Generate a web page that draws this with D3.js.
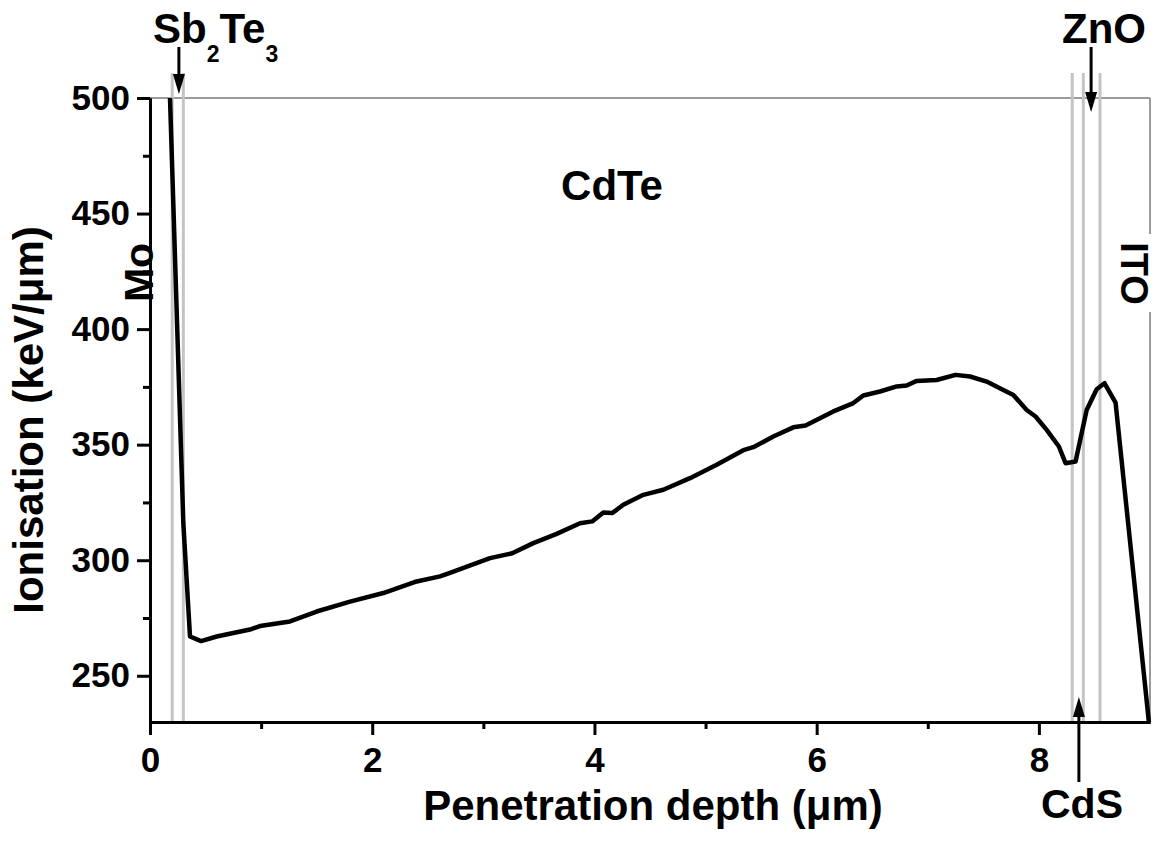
<!DOCTYPE html>
<html>
<head>
<meta charset="utf-8">
<script src="https://cdn.jsdelivr.net/npm/d3@7"></script>
<style>
  html, body { margin: 0; padding: 0; background: #fff; }
  svg { display: block; }
  text { font-family: "Liberation Sans", Arial, sans-serif; font-weight: bold; fill: #000; }
</style>
</head>
<body>
<svg id="chart" width="1157" height="842"></svg>
<script>
// ---- data ----
const depth = [0.18, 0.30, 0.36, 0.46, 0.60, 0.90, 0.99, 1.26, 1.50, 1.80, 2.10, 2.40, 2.61, 2.70,
  3.06, 3.26, 3.45, 3.66, 3.87, 3.98, 4.08, 4.16, 4.26, 4.44, 4.62, 4.86, 5.10, 5.34, 5.43, 5.61,
  5.79, 5.90, 6.15, 6.33, 6.42, 6.57, 6.72, 6.81, 6.90, 7.08, 7.25, 7.38, 7.53, 7.68, 7.77, 7.89,
  7.97, 8.07, 8.18, 8.24, 8.33, 8.43, 8.52, 8.59, 8.69, 8.99];
const ionisation = [500, 316, 267, 265, 267, 270, 271.5, 273.5, 277.8, 282.1, 285.8, 290.8, 293.0, 294.5,
  300.9, 303.0, 307.4, 311.4, 316.0, 316.8, 320.7, 320.4, 324.0, 328.3, 330.5, 335.5, 341.3, 347.6, 348.9, 353.5,
  357.5, 358.3, 364.4, 368.0, 371.3, 373.0, 375.2, 375.6, 377.6, 378.0, 380.2, 379.5, 377.3, 373.7, 371.5, 365.0,
  362.2, 356.4, 349.2, 342.0, 342.7, 365.0, 374.0, 376.6, 368.2, 230];
const interfaces = [0.2, 0.3, 8.3, 8.4, 8.55];
const xMajorTicks = [0, 2, 4, 6, 8];
const xMinorTicks = [1, 3, 5, 7];
const yMajorTicks = [250, 300, 350, 400, 450, 500];
const yMinorTicks = [275, 325, 375, 425, 475];
const xDomain = [0, 9];
const yDomain = [230, 500];
const xTitle = "Penetration depth (\u03bcm)";
const yTitle = "Ionisation (keV/\u03bcm)";

// ---- layout ----
const L = 150, R = 1150, T = 98, B = 722;
const svg = d3.select("#chart");
const x = d3.scaleLinear().domain(xDomain).range([L, R]);
const y = d3.scaleLinear().domain(yDomain).range([B, T]);

// frame (top & right, thin gray)
svg.append("line").attr("x1", L).attr("x2", R).attr("y1", T).attr("y2", T)
  .attr("stroke", "#7a7a7a").attr("stroke-width", 1.5);
svg.append("line").attr("x1", R).attr("x2", R).attr("y1", T).attr("y2", B)
  .attr("stroke", "#7a7a7a").attr("stroke-width", 1.5);

// interface lines
svg.selectAll("line.iface").data(interfaces).join("line").attr("class", "iface")
  .attr("x1", d => x(d)).attr("x2", d => x(d)).attr("y1", 73).attr("y2", B)
  .attr("stroke", "#c4c4c4").attr("stroke-width", 3);

// curve
const line = d3.line().x((d, i) => x(depth[i])).y(d => y(d));
svg.append("path").datum(ionisation).attr("d", line)
  .attr("fill", "none").attr("stroke", "#000").attr("stroke-width", 4.5)
  .attr("stroke-linejoin", "round");

// axes
function styleAxis(g) {
  g.selectAll("path.domain").attr("stroke", "#000").attr("stroke-width", 3);
  g.selectAll(".tick line").attr("stroke", "#000").attr("stroke-width", 3);
  g.selectAll(".tick text").style("font-family", '"Liberation Sans", Arial, sans-serif')
    .style("font-weight", "bold").style("font-size", "35px").attr("fill", "#000");
}
svg.append("g").attr("transform", `translate(0,${B})`)
  .call(d3.axisBottom(x).tickValues(xMinorTicks).tickSize(7).tickSizeOuter(0).tickFormat(""))
  .call(styleAxis);
svg.append("g").attr("transform", `translate(0,${B})`)
  .call(d3.axisBottom(x).tickValues(xMajorTicks).tickSize(13).tickPadding(12).tickSizeOuter(0).tickFormat(d3.format("d")))
  .call(styleAxis);
svg.append("g").attr("transform", `translate(${L},0)`)
  .call(d3.axisLeft(y).tickValues(yMinorTicks).tickSize(7).tickSizeOuter(0).tickFormat(""))
  .call(styleAxis);
svg.append("g").attr("transform", `translate(${L},0)`)
  .call(d3.axisLeft(y).tickValues(yMajorTicks).tickSize(13).tickPadding(7).tickSizeOuter(0).tickFormat(d3.format("d")))
  .call(styleAxis);

// axis titles
svg.append("text").attr("x", (L + R) / 2 + 3).attr("y", 820).attr("text-anchor", "middle")
  .style("font-size", "42px").text(xTitle);
svg.append("text").attr("transform", `translate(43,${(T + B) / 2 + 10}) rotate(-90)`)
  .attr("text-anchor", "middle").style("font-size", "42px").text(yTitle);

// arrows
function arrow(xp, y0, y1) {
  const dir = Math.sign(y1 - y0);
  const hl = 20, hw = 6;
  svg.append("line").attr("x1", xp).attr("x2", xp).attr("y1", y0).attr("y2", y1 - dir * hl)
    .attr("stroke", "#000").attr("stroke-width", 3);
  svg.append("path").attr("d", `M${xp},${y1} L${xp - hw},${y1 - dir * hl} L${xp + hw},${y1 - dir * hl} Z`)
    .attr("fill", "#000");
}
arrow(x(0.26), 47, 94);
arrow(x(8.47), 47, 112);
arrow(x(8.36), 782, 697);

// labels
const sb = svg.append("text").attr("x", 153).attr("y", 43).style("font-size", "42px");
sb.append("tspan").text("Sb");
sb.append("tspan").attr("dy", 19).style("font-size", "23px").text("2");
sb.append("tspan").attr("dy", -19).text("Te");
sb.append("tspan").attr("dy", 19).style("font-size", "23px").text("3");

svg.append("text").attr("x", 1062).attr("y", 43).style("font-size", "42px").text("ZnO");
svg.append("text").attr("x", 1041).attr("y", 818).style("font-size", "41px").text("CdS");
svg.append("text").attr("x", 612).attr("y", 200).attr("text-anchor", "middle").style("font-size", "42px").text("CdTe");

// Mo (rotated, reading upwards)
svg.append("text").attr("transform", "translate(153,272.5) rotate(-90)")
  .attr("text-anchor", "middle").style("font-size", "41px").text("Mo");

// ITO (rotated, reading downwards) with white background over the frame
svg.append("rect").attr("x", 1118).attr("y", 234).attr("width", 36).attr("height", 78).attr("fill", "#fff");
svg.append("text").attr("transform", "translate(1121,273.5) rotate(90)")
  .attr("text-anchor", "middle").style("font-size", "38px").text("ITO");
</script>
</body>
</html>
